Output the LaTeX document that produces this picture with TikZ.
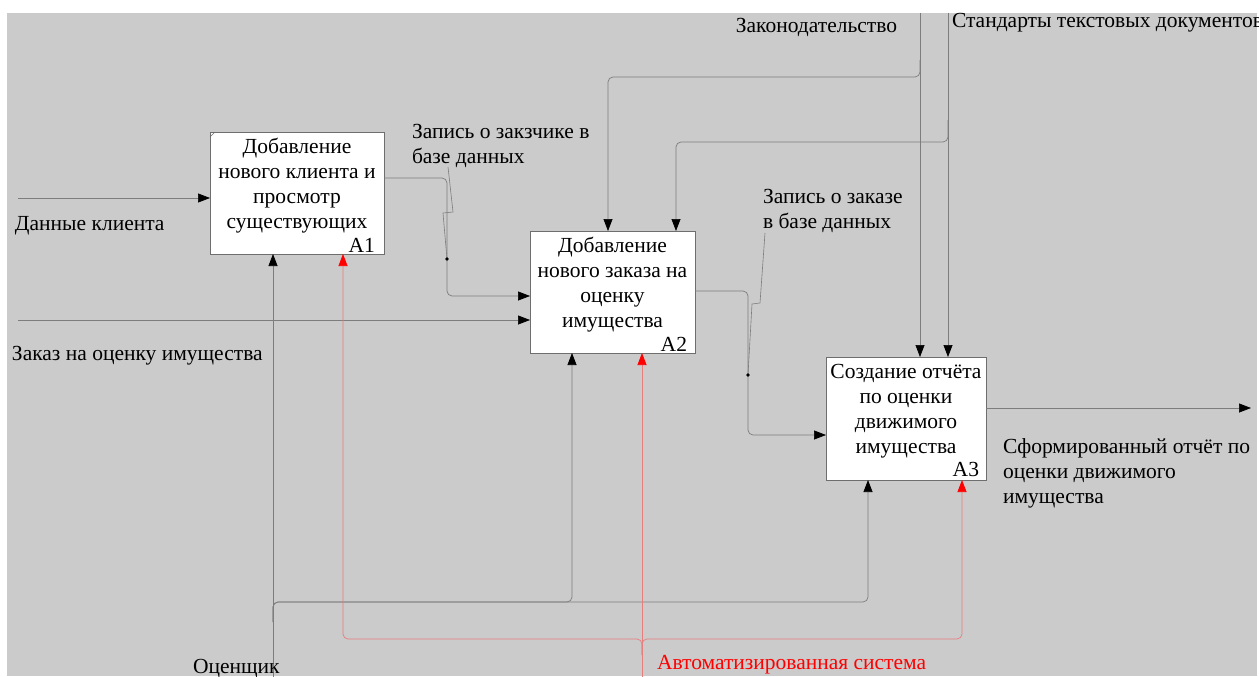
\documentclass[tikz,border=0pt]{standalone}
\usepackage{fontspec}
\setmainfont{Liberation Serif}
\usetikzlibrary{arrows.meta}
\definecolor{bg}{RGB}{203,203,203}
\definecolor{ln}{RGB}{125,125,125}
\definecolor{bx}{RGB}{110,110,110}
\definecolor{rl}{RGB}{232,125,125}
\definecolor{rr}{RGB}{255,0,0}
\begin{document}
\begin{tikzpicture}[x=1pt,y=-1pt,
  txt/.style={font=\fontsize{21.5}{25}\selectfont, inner sep=0pt, outer sep=0pt, align=left},
  boxtxt/.style={font=\fontsize{21.5}{25}\selectfont, inner sep=0pt, outer sep=0pt, align=center, anchor=north, yshift=-3pt},
  boxid/.style={font=\fontsize{21.5}{25}\selectfont, inner sep=0pt, outer sep=0pt, anchor=base east},
  fbox/.style={draw=bx, fill=white, line width=0.8pt, inner sep=0pt, outer sep=0pt, anchor=north west},
  conn/.style={draw=ln, line width=0.7pt, rounded corners=5pt},
  rconn/.style={draw=rl, line width=0.7pt, rounded corners=5pt},
  arr/.style={-{Triangle[length=12pt,width=9pt,color=black]}},
  rarr/.style={-{Triangle[length=12pt,width=9pt,color=rr]}},
  squig/.style={draw=ln, line width=0.6pt},
  jdot/.style={fill=black}]
\useasboundingbox (0,0) rectangle (1259,677);
\fill[white] (0,0) rectangle (1259,677);
\fill[bg] (7,13) rectangle (1257,676);

% boxes
\node[fbox, minimum width=174pt, minimum height=122pt] (A1) at (210,132) {};
\node[fbox, minimum width=165pt, minimum height=122pt] (A2) at (530,231) {};
\node[fbox, minimum width=160pt, minimum height=123pt] (A3) at (826,357) {};
\draw[bx, line width=0.5pt] (210,137) -- (215,132);

\node[boxtxt] (T1) at (A1.north) {\rule{0pt}{18pt}Добавление\\нового клиента и\\просмотр\\существующих};
\node[boxtxt] (T2) at (A2.north) {\rule{0pt}{18pt}Добавление\\нового заказа на\\оценку\\имущества};
\node[boxtxt] (T3) at (A3.north) {\rule{0pt}{18pt}Создание отчёта\\по оценки\\движимого\\имущества};
\node[boxid, xshift=-9pt, yshift=2pt] (I1) at (A1.south east) {A1};
\node[boxid, xshift=-8pt, yshift=2pt] (I2) at (A2.south east) {A2};
\node[boxid, xshift=-7pt, yshift=4pt] (I3) at (A3.south east) {A3};

% coordinates
\coordinate (in1) at (18,198);
\coordinate (in2) at (18,320);
\coordinate (o1a) at (447,178);
\coordinate (o1b) at (447,296);
\coordinate (o2a) at (748,291);
\coordinate (o2b) at (748,435);
\coordinate (lawTop) at (920,13);
\coordinate (stdTop) at (948,13);
\coordinate (c1) at (608,77);
\coordinate (c2) at (676,142);
\coordinate (out) at (1251,408);
\coordinate (oc) at (273,677);
\coordinate (ocj) at (273,622);
\coordinate (m2) at (572,602);
\coordinate (m3) at (868,602);
\coordinate (as) at (642,677);
\coordinate (asj) at (642,655);
\coordinate (r1) at (343,639);
\coordinate (r3) at (962,639);

% inputs
\draw[conn,arr] (in1) -- (A1.west |- in1);
\draw[conn,arr] (in2) -- (A2.west |- in2);
\draw[conn,arr] (A1.east |- o1a) -- (o1a) -- (o1b) -- (A2.west |- o1b);
\draw[conn,arr] (A2.east |- o2a) -- (o2a) -- (o2b) -- (A3.west |- o2b);
\draw[conn,arr] (A3.east |- out) -- (out);

% controls
\draw[conn,arr] (lawTop) -- (lawTop |- A3.north);
\draw[conn,arr] (stdTop) -- (stdTop |- A3.north);
\draw[conn,arr] (920,60) |- (c1) -- (c1 |- A2.north);
\draw[conn,arr] (948,120) |- (c2) -- (c2 |- A2.north);

% mechanisms
\draw[conn,arr] (oc) -- (oc |- A1.south);
\draw[conn,arr] (ocj) |- (m3) -- (m3 |- A3.south);
\draw[conn,arr] (ocj) |- (m2) -- (m2 |- A2.south);
\draw[rconn,rarr] (as) -- (as |- A2.south);
\draw[rconn,rarr] (asj) |- (r1) -- (r1 |- A1.south);
\draw[rconn,rarr] (asj) |- (r3) -- (r3 |- A3.south);

% label leaders and dots
\draw[squig] (448,167) -- (453,212) -- (443,213) -- (447,259);
\fill[jdot] (447,259) circle (1.8pt);
\draw[squig] (765,233) -- (760,303) -- (752,304) -- (748,375);
\fill[jdot] (748,375) circle (1.8pt);

% labels (base anchor = last line)
\node[txt, anchor=base west] (L1) at (15,230) {Данные клиента};
\node[txt, anchor=base west] (L2) at (12,360) {Заказ на оценку имущества};
\node[txt, anchor=base west] (L3) at (412,163) {Запись о закзчике в\\базе данных};
\node[txt, anchor=base west] (L4) at (763,228) {Запись о заказе\\в базе данных};
\node[txt, anchor=base east] (L5) at (897,33) {Законодательство};
\node[txt, anchor=base west] (L6) at (952,28) {Стандарты текстовых документов};
\node[txt, anchor=base west] (L7) at (1003,503) {Сформированный отчёт по\\оценки движимого\\имущества};
\node[txt, anchor=base west] (L8) at (193,673) {Оценщик};
\node[txt, anchor=base west, text=rr] (L9) at (657,669) {Автоматизированная система};
\end{tikzpicture}
\end{document}
